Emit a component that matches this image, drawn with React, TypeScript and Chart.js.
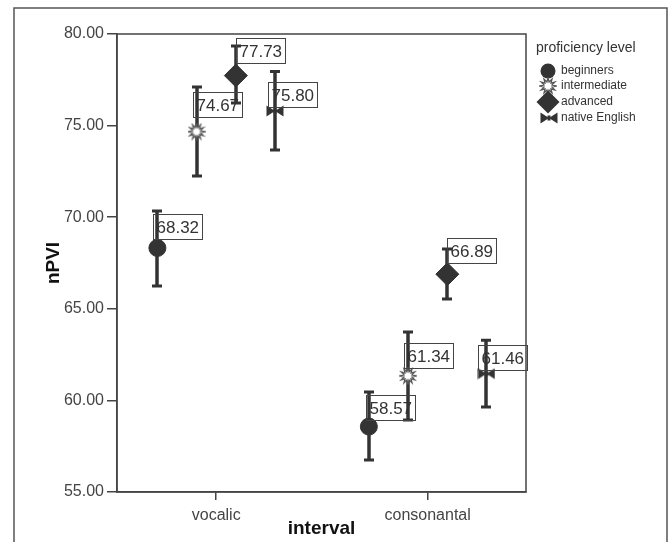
import React, { useEffect, useRef } from 'react';
import { Chart, registerables } from 'chart.js';

Chart.register(...registerables);

// ---- data ----
const categories = ['vocalic', 'consonantal'];
const groups = ['beginners', 'intermediate', 'advanced', 'native English'];

const beginnersMean = [68.32, 58.57];
const intermediateMean = [74.67, 61.34];
const advancedMean = [77.73, 66.89];
const nativeMean = [75.8, 61.46];

const beginnersLower = [66.24, 56.75];
const intermediateLower = [72.25, 58.93];
const advancedLower = [76.23, 65.54];
const nativeLower = [73.67, 59.64];

const beginnersUpper = [70.34, 60.46];
const intermediateUpper = [77.11, 63.73];
const advancedUpper = [79.35, 68.26];
const nativeUpper = [77.95, 63.29];

const yTicks = [55, 60, 65, 70, 75, 80];

// ---- styling / layout ----
const GROUP_OFFSETS = [-0.278, -0.093, 0.093, 0.278];
// label box offsets in px (dx to box left, dy to box bottom) per group, per category
const LABEL_OFFSETS = [
  [[-4, -9], [-3, -7]],
  [[-4, -15], [-4, -8]],
  [[0, -13], [0, -11]],
  [[-7, -4], [-8, -4]],
];
const INK = '#333333';
const FONT = '"Liberation Sans", Arial, sans-serif';

function makeStar(): HTMLCanvasElement {
  const c = document.createElement('canvas');
  c.width = 18; c.height = 18;
  const g = c.getContext('2d')!;
  const cx = 9, cy = 9, n = 12, ro = 8, ri = 4.2;
  g.beginPath();
  for (let i = 0; i < n * 2; i++) {
    const r = i % 2 === 0 ? ro : ri;
    const a = (Math.PI * i) / n - Math.PI / 2;
    const px = cx + r * Math.cos(a), py = cy + r * Math.sin(a);
    if (i === 0) g.moveTo(px, py); else g.lineTo(px, py);
  }
  g.closePath();
  g.fillStyle = '#ffffff';
  g.fill();
  g.strokeStyle = '#555555';
  g.lineWidth = 1.3;
  g.stroke();
  return c;
}

function makeBowtie(): HTMLCanvasElement {
  const c = document.createElement('canvas');
  c.width = 18; c.height = 12;
  const g = c.getContext('2d')!;
  g.fillStyle = INK;
  g.beginPath();
  g.moveTo(0.5, 0.5); g.lineTo(9, 6); g.lineTo(0.5, 11.5); g.closePath();
  g.moveTo(17.5, 0.5); g.lineTo(9, 6); g.lineTo(17.5, 11.5); g.closePath();
  g.fill();
  g.fillRect(7.5, 3.5, 3, 5);
  return c;
}

export default function App() {
  const ref = useRef<HTMLCanvasElement | null>(null);

  useEffect(() => {
    const canvas = ref.current;
    if (!canvas) return;
    const star = makeStar();
    const bowtie = makeBowtie();

    const means = [beginnersMean, intermediateMean, advancedMean, nativeMean];
    const lowers = [beginnersLower, intermediateLower, advancedLower, nativeLower];
    const uppers = [beginnersUpper, intermediateUpper, advancedUpper, nativeUpper];
    const styles: any[] = ['circle', star, 'rectRot', bowtie];
    const radii = [8.5, 8, 11.5, 8];

    const datasets = groups.map((gname, gi) => ({
      label: gname,
      data: means[gi].map((m, ci) => ({ x: ci + GROUP_OFFSETS[gi], y: m })),
      pointStyle: styles[gi],
      pointRadius: radii[gi],
      pointHoverRadius: radii[gi],
      backgroundColor: INK,
      borderColor: INK,
      borderWidth: 1,
      showLine: false,
    }));

    const errorBars = {
      id: 'errorBars',
      beforeDatasetsDraw(chart: any) {
        const { ctx } = chart;
        const x = chart.scales.x, y = chart.scales.y;
        ctx.save();
        ctx.strokeStyle = INK;
        ctx.lineCap = 'butt';
        means.forEach((arr, gi) => {
          arr.forEach((_m, ci) => {
            const px = Math.round(x.getPixelForValue(ci + GROUP_OFFSETS[gi]));
            const pl = y.getPixelForValue(lowers[gi][ci]);
            const pu = y.getPixelForValue(uppers[gi][ci]);
            ctx.lineWidth = 3.5;
            ctx.beginPath();
            ctx.moveTo(px, pl);
            ctx.lineTo(px, pu);
            ctx.stroke();
            ctx.lineWidth = 3;
            ctx.beginPath();
            ctx.moveTo(px - 5, pl); ctx.lineTo(px + 5, pl);
            ctx.moveTo(px - 5, pu); ctx.lineTo(px + 5, pu);
            ctx.stroke();
          });
        });
        ctx.restore();
      },
      afterDatasetsDraw(chart: any) {
        const { ctx } = chart;
        const x = chart.scales.x, y = chart.scales.y;
        ctx.save();
        ctx.font = `17px ${FONT}`;
        ctx.textBaseline = 'middle';
        ctx.textAlign = 'left';
        means.forEach((arr, gi) => {
          arr.forEach((m, ci) => {
            const px = x.getPixelForValue(ci + GROUP_OFFSETS[gi]);
            const py = y.getPixelForValue(m);
            const txt = m.toFixed(2);
            const w = Math.round(ctx.measureText(txt).width + 6);
            const h = 25;
            const [dx, dy] = LABEL_OFFSETS[gi][ci];
            const left = Math.round(px + dx) + 0.5;
            const bottom = Math.round(py + dy) + 0.5;
            ctx.strokeStyle = '#444';
            ctx.lineWidth = 1;
            ctx.strokeRect(left, bottom - h, w, h);
            ctx.fillStyle = '#333';
            ctx.fillText(txt, left + 3, bottom - h / 2 + 1);
          });
        });
        ctx.restore();
      },
      afterDraw(chart: any) {
        const { ctx, chartArea } = chart;
        ctx.save();
        // plot border
        ctx.strokeStyle = '#444';
        ctx.lineWidth = 1.5;
        ctx.strokeRect(chartArea.left, chartArea.top, chartArea.right - chartArea.left, chartArea.bottom - chartArea.top);
        // outer frame
        ctx.strokeStyle = '#555';
        ctx.lineWidth = 1.5;
        ctx.strokeRect(14, 8, 653, 560);
        // axis titles
        ctx.fillStyle = '#111';
        ctx.font = `bold 19px ${FONT}`;
        ctx.textAlign = 'center';
        ctx.textBaseline = 'middle';
        ctx.fillText('interval', (chartArea.left + chartArea.right) / 2, 529);
        ctx.save();
        ctx.translate(54, (chartArea.top + chartArea.bottom) / 2);
        ctx.rotate(-Math.PI / 2);
        ctx.fillText('nPVI', 0, 0);
        ctx.restore();
        // legend
        const lx = 548;
        ctx.textAlign = 'left';
        ctx.fillStyle = '#333';
        ctx.font = `14px ${FONT}`;
        ctx.fillText('proficiency level', 536, 48);
        ctx.font = `12px ${FONT}`;
        const rowY = [71, 86, 102, 118];
        groups.forEach((gname, gi) => {
          const yy = rowY[gi];
          ctx.fillStyle = INK;
          if (gi === 0) {
            ctx.beginPath();
            ctx.arc(lx, yy, 7.5, 0, Math.PI * 2);
            ctx.fill();
          } else if (gi === 1) {
            ctx.drawImage(star, lx - star.width / 2, yy - star.height / 2);
          } else if (gi === 2) {
            ctx.beginPath();
            ctx.moveTo(lx, yy - 11.5);
            ctx.lineTo(lx + 11.5, yy);
            ctx.lineTo(lx, yy + 11.5);
            ctx.lineTo(lx - 11.5, yy);
            ctx.closePath();
            ctx.fill();
          } else {
            ctx.drawImage(bowtie, lx - bowtie.width / 2 + 1, yy - bowtie.height / 2);
          }
          ctx.fillStyle = '#333';
          ctx.fillText(gname, 561, yy);
        });
        ctx.restore();
      },
    };

    const chart = new Chart(canvas, {
      type: 'scatter',
      data: { datasets },
      options: {
        animation: false,
        responsive: false,
        events: [],
        layout: { padding: { left: 0, top: 34, right: 143, bottom: 0 } },
        plugins: { legend: { display: false }, tooltip: { enabled: false } },
        scales: {
          x: {
            type: 'linear',
            min: -0.469,
            max: 1.465,
            afterBuildTicks: (scale: any) => {
              scale.ticks = categories.map((_c, i) => ({ value: i }));
            },
            afterFit: (scale: any) => { scale.height = 50; },
            ticks: {
              callback: (v: any) => categories[Math.round(Number(v))] ?? '',
              color: '#444',
              font: { size: 16, family: FONT },
              padding: 6,
              maxRotation: 0,
              autoSkip: false,
            },
            grid: { drawOnChartArea: false, drawTicks: true, tickLength: 8, color: '#444', lineWidth: 1.5 },
            border: { display: true, color: '#444', width: 1.5 },
          },
          y: {
            type: 'linear',
            min: yTicks[0],
            max: yTicks[yTicks.length - 1],
            afterBuildTicks: (scale: any) => {
              scale.ticks = yTicks.map((v) => ({ value: v }));
            },
            afterFit: (scale: any) => { scale.width = 117; },
            ticks: {
              callback: (v: any) => Number(v).toFixed(2),
              color: '#444',
              font: { size: 16, family: FONT },
              padding: 3,
              autoSkip: false,
            },
            grid: { drawOnChartArea: false, drawTicks: true, tickLength: 10, color: '#444', lineWidth: 1.5 },
            border: { display: true, color: '#444', width: 1.5 },
          },
        },
      },
      plugins: [errorBars],
    });

    return () => chart.destroy();
  }, []);

  return (
    <div style={{ position: 'fixed', left: 0, top: 0, width: 669, height: 542, background: '#fff' }}>
      <canvas ref={ref} width={669} height={542} style={{ display: 'block', width: 669, height: 542 }} />
    </div>
  );
}
